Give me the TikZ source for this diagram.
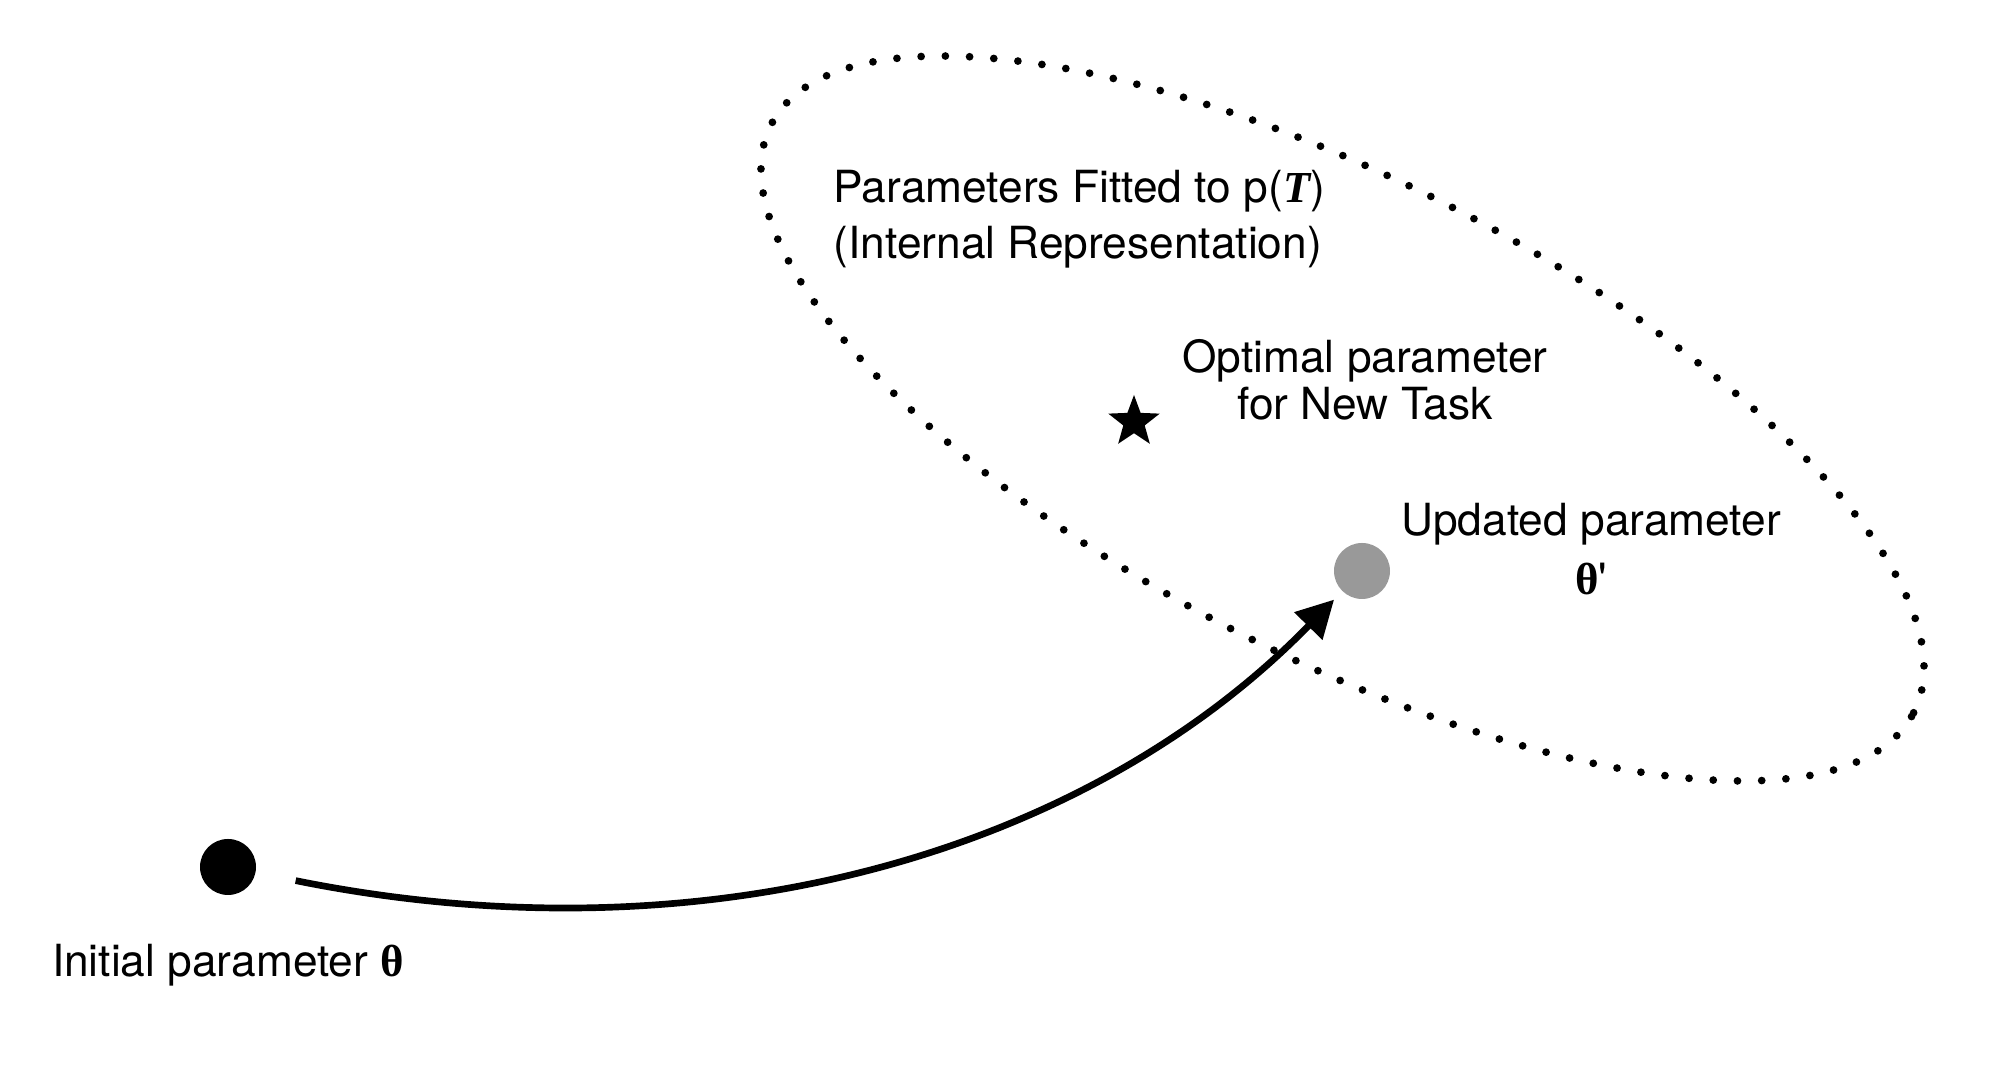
\documentclass[tikz,border=0pt]{standalone}
\usepackage{fontspec}
\setmainfont{TeX Gyre Heros}
\newfontfamily\serifgr{Liberation Serif}
\usetikzlibrary{arrows.meta,positioning,shapes.geometric}

\definecolor{dotgray}{RGB}{153,153,153}
\newcommand{\thetab}{{\serifgr\bfseries\fontsize{12.8}{14}\selectfont θ}}

\begin{document}
\begin{tikzpicture}[
    pt/.style={circle, inner sep=0pt, outer sep=0pt, minimum size=5.6mm},
    lbl/.style={inner sep=0pt, font=\fontsize{12.6}{16}\selectfont}]
  \useasboundingbox (0,0) rectangle (20.02,10.66);

  % Fitted region
  \draw [line width=2.2pt, line cap=round, dash pattern=on 0pt off 6.9pt,
    rotate around={-27.26:(13.425,6.475)}] (13.425,6.475) ellipse (6.425 and 2.38);

  % Parameters
  \node [pt, fill=black] (init) at (2.28,1.99) {};
  \node [pt, fill=dotgray] (upd) at (13.62,4.95) {};
  \node [star, star points=5, star point ratio=2.4, fill=black, inner sep=0pt,
    minimum size=5.4mm] (opt) at (11.34,6.44) {};

  % Labels
  \node [lbl, align=left, anchor=west] (fitlbl) at (8.33,8.465)
    {Parameters Fitted to p({\serifgr\bfseries\itshape T})\\(Internal Representation)};
  \node [lbl, align=center, font=\fontsize{12.6}{13.4}\selectfont] (optlbl) at (13.65,6.86)
    {Optimal parameter\\for New Task};
  \node [lbl, align=center, font=\fontsize{12.6}{17}\selectfont] (updlbl) at (15.91,5.17)
    {Updated parameter\\\thetab\textquotesingle};
  \node [lbl, below=4.9mm of init] (initlbl) {Initial parameter \thetab};

  % Update step
  \draw [line width=1.9pt, -{Triangle[length=3.7mm,width=3.8mm]},
    shorten <=4.1mm, shorten >=1.2mm]
    (init) .. controls (7.09,1.02) and (10.89,2.15) .. (upd);
\end{tikzpicture}
\end{document}
